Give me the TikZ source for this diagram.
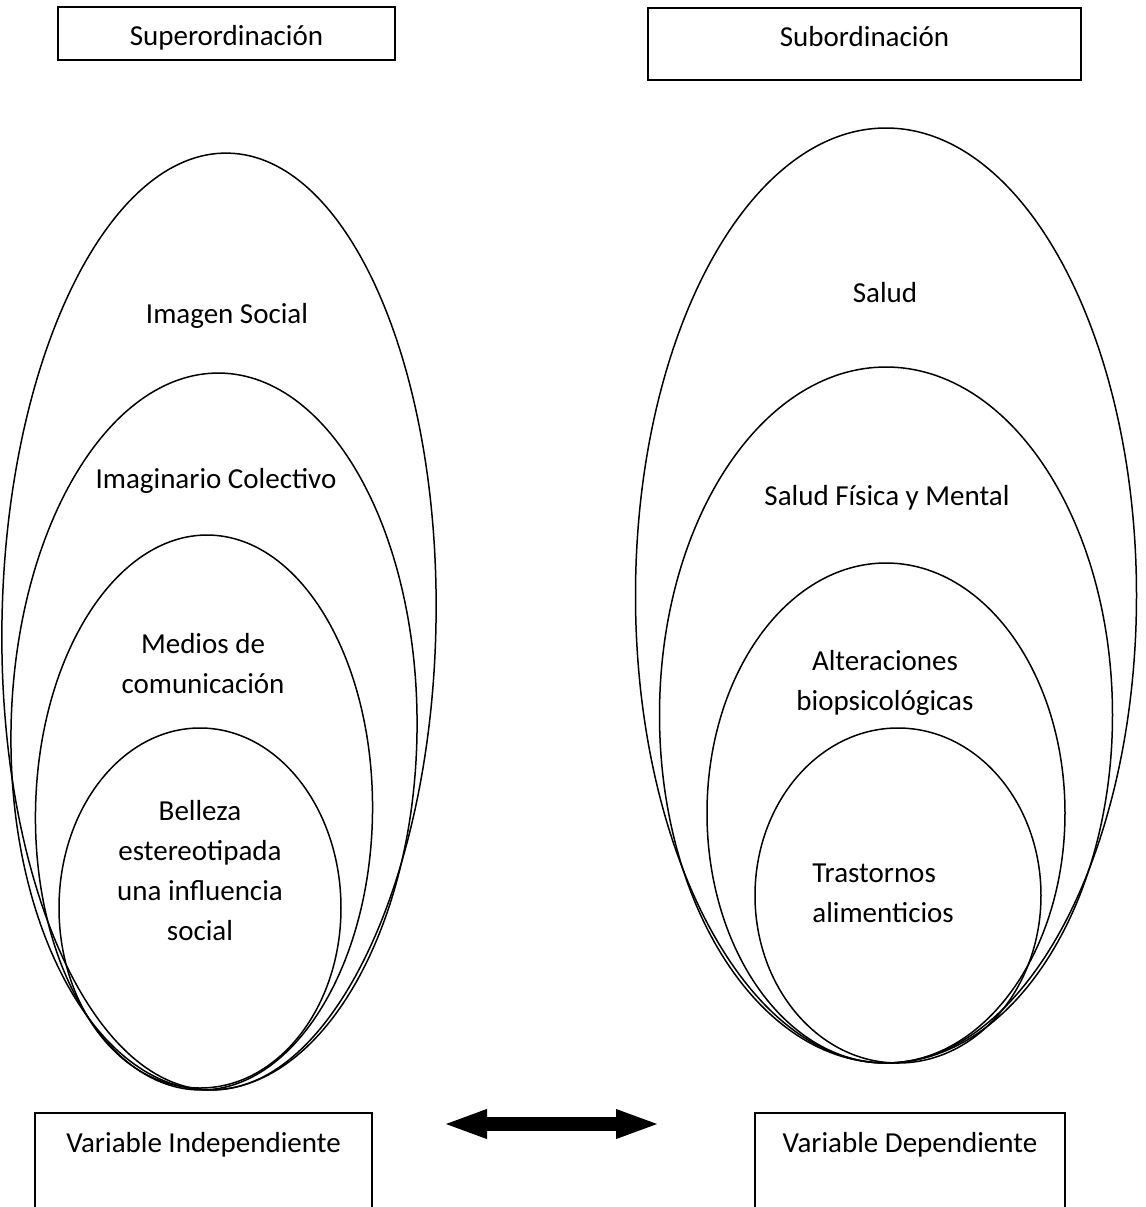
\documentclass[tikz,border=0pt]{standalone}
\usepackage{fontspec}
\setmainfont{Carlito}
\usetikzlibrary{shapes.geometric,arrows.meta}
\begin{document}
\begin{tikzpicture}[x=0.5pt,y=-0.5pt,
  ring/.style={ellipse, draw=black, line width=0.75pt, inner sep=0pt},
  ringtext/.style={font=\fontsize{14.5}{20}\selectfont, align=center, anchor=base, inner sep=0pt},
  headbox/.style={rectangle, draw=black, line width=0.75pt, inner xsep=0pt, inner ysep=0pt, font=\fontsize{14.5}{20}\selectfont, anchor=base}]

\path[use as bounding box, clip] (0,0) rectangle (1146,1207);

% Ellipses, left side
\node (social) [ring, minimum width=217pt, minimum height=468.5pt, rotate=-1.1] at (219,621.5) {};
\node (imaginario) [ring, minimum width=203pt, minimum height=358.5pt, rotate=-1] at (214,731.5) {};
\node (medios) [ring, minimum width=168.5pt, minimum height=277.5pt, rotate=-1] at (204,812.5) {};
\node (belleza) [ring, minimum width=141pt, minimum height=180pt] at (200,908) {};

% Ellipses, right side
\node (salud) [ring, minimum width=250.5pt, minimum height=467.5pt] at (886,595.5) {};
\node (fisica) [ring, minimum width=226.5pt, minimum height=348pt] at (886,715) {};
\node (alteraciones) [ring, minimum width=179pt, minimum height=250pt] at (886,813) {};
\node (trastornos) [ring, minimum width=143pt, minimum height=167.5pt] at (898,895.5) {};

% Labels (base = last line)
\node (tsocial) [ringtext] at (227,323) {Imagen Social};
\node (timaginario) [ringtext] at (216,488) {Imaginario Colectivo};
\node (tmedios) [ringtext] at (203,693) {Medios de\\comunicación};
\node (tbelleza) [ringtext] at (200,940) {Belleza\\estereotipada\\una influencia\\social};
\node (tsalud) [ringtext] at (885,302) {Salud};
\node (tfisica) [ringtext] at (887,505) {Salud Física y Mental};
\node (talteraciones) [ringtext] at (885,710) {Alteraciones\\biopsicológicas};
\node (ttrastornos) [ringtext, align=left, anchor=base west] at (812,922) {Trastornos\\alimenticios};

% Boxes
\node (super) [headbox, minimum width=168.5pt, text height=19pt, text depth=7.5pt] at (226.5,45) {Superordinación};
\node (sub) [headbox, minimum width=216.5pt, text height=19pt, text depth=17pt] at (864.5,46) {Subordinación};
\node (vindep) [headbox, minimum width=168.5pt, text height=19.5pt, text depth=40pt] at (203.5,1152) {Variable Independiente};
\node (vdep) [headbox, minimum width=155pt, text height=19.5pt, text depth=40pt] at (910,1152) {Variable Dependiente};

% Arrow
\coordinate (aleft) at (442,1124);
\coordinate (aright) at (661,1124);
\draw [line width=7pt, {Triangle[length=22.5pt,width=13pt]}-{Triangle[length=22.5pt,width=13pt]}] (aleft) -- (aright);

\end{tikzpicture}
\end{document}
